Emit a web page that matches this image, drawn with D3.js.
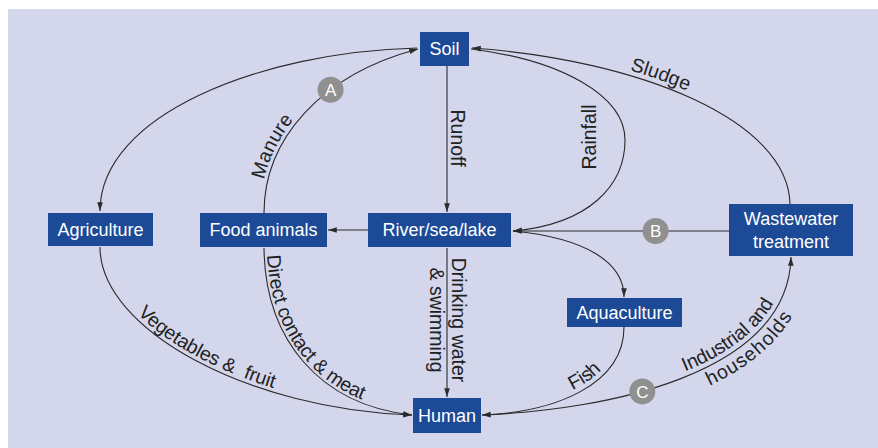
<!DOCTYPE html>
<html>
<head>
<meta charset="utf-8">
<script src="https://cdn.jsdelivr.net/npm/d3@7"></script>
<style>
  body { margin: 0; background: #fff; }
  svg text { font-family: "Liberation Sans", Arial, Helvetica, sans-serif; white-space: pre; }
</style>
</head>
<body>
<svg id="chart" width="878" height="448"></svg>
<script>
// nodes of the cycle
const nodes = ["Soil", "Agriculture", "Food animals", "River/sea/lake", "Wastewater\ntreatment", "Aquaculture", "Human"];

// flows [from, to]
const flows = [
  ["Soil", "Agriculture"],
  ["Food animals", "Soil"],
  ["Soil", "River/sea/lake"],
  ["Soil", "River/sea/lake"],
  ["Wastewater\ntreatment", "Soil"],
  ["River/sea/lake", "Food animals"],
  ["Wastewater\ntreatment", "River/sea/lake"],
  ["River/sea/lake", "Aquaculture"],
  ["Aquaculture", "Human"],
  ["Human", "Wastewater\ntreatment"],
  ["Agriculture", "Human"],
  ["Food animals", "Human"],
  ["River/sea/lake", "Human"]
];
const flowLabels = ["", "Manure", "Runoff", "Rainfall", "Sludge", "", "", "", "Fish",
  "Industrial and\nhouseholds", "Vegetables &  fruit", "Direct contact & meat", "Drinking water\n& swimming"];

// lettered control points [letter, flow index]
const badges = [["A", 1], ["B", 6], ["C", 9]];

// ---- layout ----
const boxes = {
  "Soil": [420, 32, 49, 34],
  "Agriculture": [48, 213, 105, 33],
  "Food animals": [200, 213, 127, 34],
  "River/sea/lake": [368, 213, 143, 34],
  "Wastewater\ntreatment": [729, 204, 124, 52],
  "Aquaculture": [567, 298, 115, 29],
  "Human": [413, 398, 68, 35]
};

// path geometry for each flow (move + cubic segments, or straight line)
const geometry = [
  [[417, 48], [260, 52], [100, 115], [100, 211]],
  [[264, 213], [264, 140], [320, 75], [418, 49]],
  [[447, 66], [447, 212]],
  [[471, 49], [560, 60], [625, 95], [625, 140], [625, 185], [590, 224], [513, 231]],
  [[790, 204], [788, 120], [640, 60], [472, 48]],
  [[368, 230], [328, 230]],
  [[729, 231], [513, 231]],
  [[513, 231], [585, 238], [624, 262], [624, 297]],
  [[624, 327], [624, 385], [555, 412], [482, 415]],
  [[482, 415], [605, 410], [788, 375], [791, 257]],
  [[100, 247], [100, 330], [250, 410], [412, 415]],
  [[264, 248], [265, 340], [320, 405], [412, 415]],
  [[447, 248], [447, 397]]
];

// label placement: along path (offset %, dy per line, reversed) or rotated
const labelPlace = {
  1: {path: true, rev: false, offset: ["27%"], dy: [-4], anchor: "middle"},
  2: {rot: 90, x: [451], y: 138},
  3: {rot: -90, x: [596], y: 137},
  4: {path: true, rev: true, offset: ["50%"], dy: [-5], anchor: "middle"},
  8: {path: true, rev: true, offset: ["62%"], dy: [-5], anchor: "middle"},
  9: {path: true, rev: false, offset: ["71%", "73%"], dy: [-5, 18], anchor: "middle"},
  10: {path: true, rev: false, offset: ["21%"], dy: [-4], anchor: "start"},
  11: {path: true, rev: false, offset: ["3%"], dy: [-3], anchor: "start"},
  12: {rot: 90, x: [452, 430], y: 320}
};
const badgeFrac = [0.6, 0.34, 0.43];

const boxColor = "#1c4a97", lineColor = "#2b2b2b", badgeColor = "#909090";

const svg = d3.select("#chart");

svg.append("rect")
  .attr("x", 8).attr("y", 9)
  .attr("width", 870).attr("height", 439)
  .attr("fill", "#d4d6ec");

const defs = svg.append("defs");
defs.append("marker")
  .attr("id", "arrow")
  .attr("viewBox", "0 -4 10 8")
  .attr("refX", 10).attr("refY", 0)
  .attr("markerUnits", "userSpaceOnUse")
  .attr("markerWidth", 9).attr("markerHeight", 7)
  .attr("orient", "auto")
  .append("path")
  .attr("d", "M0,-3.2L10,0L0,3.2Z")
  .attr("fill", lineColor);

const buildPath = function(pts) {
  const p = d3.path();
  p.moveTo(pts[0][0], pts[0][1]);
  if (pts.length === 2) {
    p.lineTo(pts[1][0], pts[1][1]);
  } else {
    for (let i = 1; i < pts.length; i += 3) {
      p.bezierCurveTo(pts[i][0], pts[i][1], pts[i + 1][0], pts[i + 1][1], pts[i + 2][0], pts[i + 2][1]);
    }
  }
  return p.toString();
};

// hidden paths for text, reversed where the reading direction needs it
flows.forEach((f, i) => {
  const pl = labelPlace[i];
  if (pl && pl.path) {
    const pts = pl.rev ? geometry[i].slice().reverse() : geometry[i];
    defs.append("path").attr("id", "lp" + i).attr("d", buildPath(pts));
  }
});

// flow lines
const flowPaths = svg.append("g")
  .selectAll("path")
  .data(flows)
  .enter()
  .append("path")
  .attr("d", (d, i) => buildPath(geometry[i]))
  .attr("fill", "none")
  .attr("stroke", lineColor)
  .attr("stroke-width", 1.1)
  .attr("marker-end", "url(#arrow)");

// flow labels
const labelG = svg.append("g")
  .attr("fill", "#222")
  .style("font-size", "19.5px");

flowLabels.forEach((lab, i) => {
  if (!lab) return;
  const pl = labelPlace[i];
  const lines = lab.split("\n");
  if (pl.path) {
    lines.forEach((ln, j) => {
      labelG.append("text")
        .attr("dy", pl.dy[j])
        .append("textPath")
        .attr("href", "#lp" + i)
        .attr("startOffset", pl.offset[j])
        .attr("text-anchor", pl.anchor)
        .text(ln);
    });
  } else {
    lines.forEach((ln, j) => {
      labelG.append("text")
        .attr("transform", "translate(" + pl.x[j] + "," + pl.y + ") rotate(" + pl.rot + ")")
        .attr("text-anchor", "middle")
        .text(ln);
    });
  }
});

// badges A, B, C sitting on their flows
const badgeG = svg.append("g")
  .selectAll("g")
  .data(badges)
  .enter()
  .append("g")
  .attr("transform", (d, i) => {
    const node = flowPaths.nodes()[d[1]];
    const pt = node.getPointAtLength(node.getTotalLength() * badgeFrac[i]);
    return "translate(" + pt.x + "," + pt.y + ")";
  });
badgeG.append("circle")
  .attr("r", 13)
  .attr("fill", badgeColor);
badgeG.append("text")
  .attr("text-anchor", "middle")
  .attr("dy", "0.36em")
  .attr("fill", "#fff")
  .style("font-size", "17px")
  .text(d => d[0]);

// node boxes
const nodeG = svg.append("g")
  .selectAll("g")
  .data(nodes)
  .enter()
  .append("g")
  .attr("transform", d => "translate(" + boxes[d][0] + "," + boxes[d][1] + ")");
nodeG.append("rect")
  .attr("width", d => boxes[d][2])
  .attr("height", d => boxes[d][3])
  .attr("fill", boxColor);
nodeG.each(function(d) {
  const lines = d.split("\n");
  const b = boxes[d];
  const t = d3.select(this).append("text")
    .attr("text-anchor", "middle")
    .attr("fill", "#fff")
    .style("font-size", "18px");
  lines.forEach((ln, j) => {
    t.append("tspan")
      .attr("x", b[2] / 2)
      .attr("y", b[3] / 2 + (j - (lines.length - 1) / 2) * 23)
      .attr("dy", "0.36em")
      .text(ln);
  });
});
</script>
</body>
</html>
